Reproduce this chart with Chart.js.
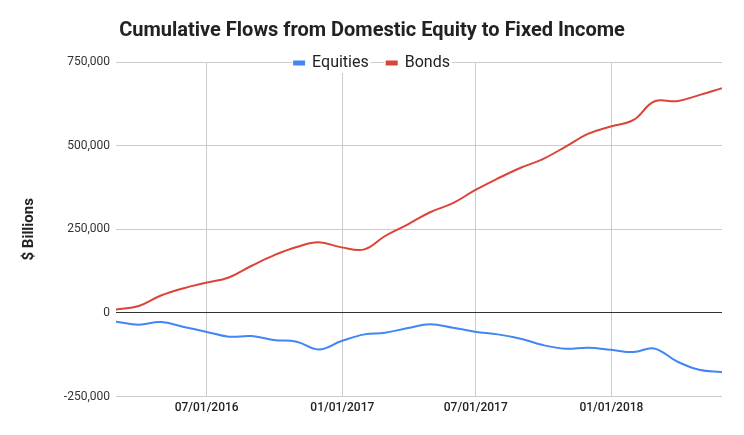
<!DOCTYPE html>
<html>
<head>
<meta charset="utf-8">
<script src="https://cdn.jsdelivr.net/npm/chart.js@4"></script>
<style>
  html, body { margin: 0; padding: 0; background: #fff; }
  #wrap { width: 744px; height: 435px; }
</style>
</head>
<body>
<div id="wrap"><canvas id="grafico"></canvas></div>
<script>
// month-end points
const datas = [
  "2016-02-29", "2016-03-31", "2016-04-30", "2016-05-31", "2016-06-30", "2016-07-31",
  "2016-08-31", "2016-09-30", "2016-10-31", "2016-11-30", "2016-12-31",
  "2017-01-31", "2017-02-28", "2017-03-31", "2017-04-30", "2017-05-31", "2017-06-30",
  "2017-07-31", "2017-08-31", "2017-09-30", "2017-10-31", "2017-11-30", "2017-12-31",
  "2018-01-31", "2018-02-28", "2018-03-31", "2018-04-30", "2018-05-31"
];
const equities = [
  -26000, -35000, -27000, -42000, -56000, -71000, -69000, -81000, -86000, -109000,
  -84000, -64000, -59000, -45000, -34000, -44000, -56000, -64000, -77000, -96000,
  -107000, -104000, -110000, -117000, -106000, -145000, -170000, -177000
];
const bonds = [
  10000, 21000, 52000, 74000, 90000, 106000, 141000, 172000, 197000, 211000,
  196000, 190000, 230000, 265000, 301000, 328000, 367000, 402000, 434000, 460000,
  497000, 535000, 557000, 577000, 632000, 633000, 651000, 672000
];
const ticksX = ["2016-07-01", "2017-01-01", "2017-07-01", "2018-01-01"];
const ticksY = [-250000, 0, 250000, 500000, 750000];

const dia = s => Date.parse(s + "T00:00:00Z") / 86400000;
const pad2 = n => String(n).padStart(2, "0");
function fmtData(v) {
  const d = new Date(v * 86400000);
  return pad2(d.getUTCMonth() + 1) + "/" + pad2(d.getUTCDate()) + "/" + d.getUTCFullYear();
}

// legend sits over the top gridline with a white background
const fundoLegenda = {
  id: "fundoLegenda",
  afterLayout(chart) {
    const lg = chart.legend;
    if (!lg) return;
    lg.bottom = lg.top + 50;
    lg.height = 50;
  },
  beforeDatasetsDraw(chart) {
    const lg = chart.legend;
    if (!lg || !lg.legendHitBoxes) return;
    const ctx = chart.ctx;
    ctx.save();
    ctx.fillStyle = "#fff";
    lg.legendHitBoxes.forEach(h => ctx.fillRect(h.left - 2, h.top - 2, h.width + 4, h.height + 4));
    ctx.restore();
    lg.draw();
  }
};

Chart.defaults.font.family = "Roboto, 'Noto Sans', sans-serif";

new Chart(document.getElementById("grafico"), {
  type: "line",
  data: {
    datasets: [
      {
        label: "Equities",
        data: datas.map((d, i) => ({ x: dia(d), y: equities[i] })),
        borderColor: "#4285F4",
        backgroundColor: "#4285F4",
        borderWidth: 2,
        pointRadius: 0,
        tension: 0.4
      },
      {
        label: "Bonds",
        data: datas.map((d, i) => ({ x: dia(d), y: bonds[i] })),
        borderColor: "#DB4437",
        backgroundColor: "#DB4437",
        borderWidth: 2,
        pointRadius: 0,
        tension: 0.4
      }
    ]
  },
  options: {
    responsive: true,
    maintainAspectRatio: false,
    animation: false,
    layout: { padding: { top: 0, left: 22, right: 22, bottom: 16 } },
    plugins: {
      tooltip: { enabled: false },
      title: {
        display: true,
        text: "Cumulative Flows from Domestic Equity to Fixed Income",
        color: "#222",
        font: { size: 20, weight: "bold" },
        padding: { top: 19, bottom: -6 }
      },
      legend: {
        position: "top",
        maxHeight: 25,
        labels: {
          color: "#222",
          font: { size: 16 },
          boxWidth: 10,
          boxHeight: 3,
          padding: 18
        }
      }
    },
    scales: {
      x: {
        type: "linear",
        min: dia(datas[0]),
        max: dia(datas[datas.length - 1]),
        afterBuildTicks: s => { s.ticks = ticksX.map(t => ({ value: dia(t) })); },
        grid: { color: "#ccc", drawTicks: false },
        border: { display: false },
        ticks: {
          autoSkip: false,
          maxRotation: 0,
          padding: 4,
          color: "#222",
          font: { size: 12, weight: "500" },
          callback: v => fmtData(v)
        }
      },
      y: {
        min: -250000,
        max: 750000,
        afterBuildTicks: s => { s.ticks = ticksY.map(v => ({ value: v })); },
        afterFit: s => { s.width = 94; },
        grid: {
          drawTicks: false,
          color: c => (c.tick && c.tick.value === 0 ? "#333" : "#ccc")
        },
        border: { display: false },
        ticks: {
          padding: 6,
          color: "#333",
          font: { size: 12 },
          callback: v => v.toLocaleString("en-US")
        },
        title: {
          display: true,
          text: "$ Billions",
          color: "#222",
          font: { size: 15, weight: "bold", lineHeight: 1 },
          padding: { top: 0, bottom: 0 }
        }
      }
    }
  },
  plugins: [fundoLegenda]
});
</script>
</body>
</html>
